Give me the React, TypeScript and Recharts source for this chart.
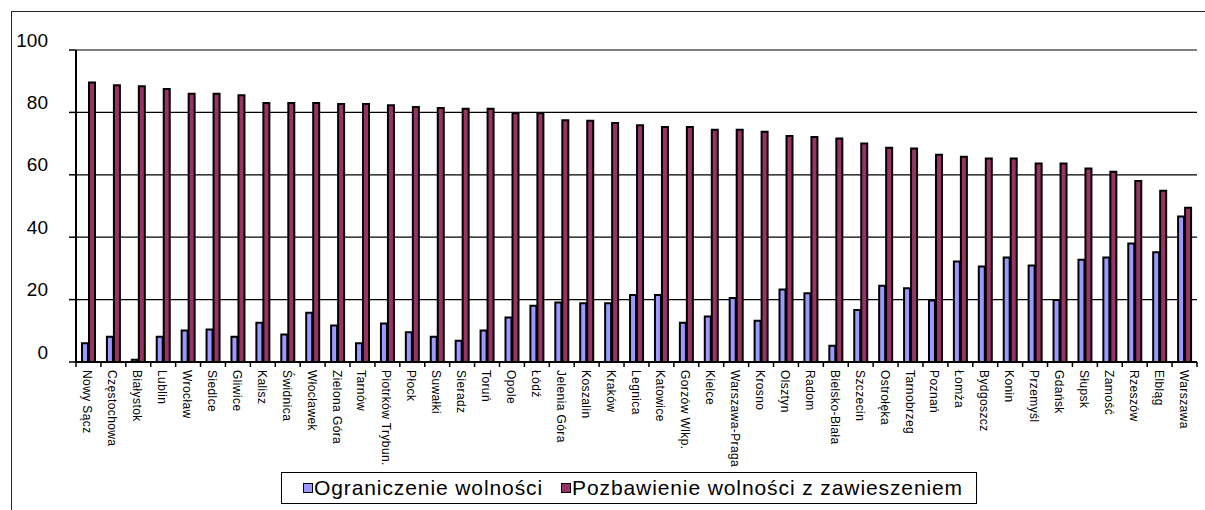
import React from 'react';
import { BarChart, Bar, XAxis, YAxis, CartesianGrid, Legend } from 'recharts';

const categories = [
  'Nowy Sącz', 'Częstochowa', 'Białystok', 'Lublin', 'Wrocław', 'Siedlce', 'Gliwice', 'Kalisz',
  'Świdnica', 'Włocławek', 'Zielona Góra', 'Tarnów', 'Piotrków Trybun.', 'Płock', 'Suwałki',
  'Sieradz', 'Toruń', 'Opole', 'Łódź', 'Jelenia Góra', 'Koszalin', 'Kraków', 'Legnica', 'Katowice',
  'Gorzów Wlkp.', 'Kielce', 'Warszawa-Praga', 'Krosno', 'Olsztyn', 'Radom', 'Bielsko-Biała',
  'Szczecin', 'Ostrołęka', 'Tarnobrzeg', 'Poznań', 'Łomża', 'Bydgoszcz', 'Konin', 'Przemyśl',
  'Gdańsk', 'Słupsk', 'Zamość', 'Rzeszów', 'Elbląg', 'Warszawa',
];

const ograniczenie = [
  6.0, 8.1, 0.7, 8.1, 10.1, 10.4, 8.1, 12.6, 8.8, 15.8, 11.7, 6.0, 12.3, 9.5, 8.1,
  6.8, 10.1, 14.3, 18.0, 19.1, 18.8, 18.8, 21.5, 21.5, 12.6, 14.6, 20.5, 13.2, 23.2, 22.0,
  5.2, 16.7, 24.4, 23.6, 19.7, 32.2, 30.6, 33.5, 30.9, 19.9, 32.8, 33.5, 38.0, 35.2, 46.6,
];

const pozbawienie = [
  89.6, 88.7, 88.4, 87.5, 86.0, 86.0, 85.5, 83.0, 83.0, 83.0, 82.7, 82.7, 82.3, 81.7, 81.4,
  81.2, 81.2, 79.7, 79.7, 77.5, 77.3, 76.6, 75.9, 75.3, 75.3, 74.4, 74.4, 73.8, 72.4, 72.1,
  71.6, 70.0, 68.7, 68.4, 66.4, 65.8, 65.2, 65.2, 63.6, 63.6, 62.0, 61.0, 58.0, 54.9, 49.4,
];

const yTicks = [0, 20, 40, 60, 80, 100];

const seriesNames = ['Ograniczenie wolności', 'Pozbawienie wolności z zawieszeniem'];
const seriesColors = ['#9999FF', '#993366'];

const data = categories.map((name, i) => ({
  name,
  ograniczenie: ograniczenie[i],
  pozbawienie: pozbawienie[i],
}));

const FONT = '"Liberation Sans", Arial, sans-serif';
const BAND = (1197 - 76) / categories.length;

const XTick = (props: any) => {
  const { x, y, payload, index } = props;
  const isLast = index === categories.length - 1;
  return (
    <g>
      <line x1={x - BAND / 2} y1={y - 8} x2={x - BAND / 2} y2={y - 3} stroke="#000" strokeWidth={1.5} />
      {isLast && (
        <line x1={x + BAND / 2} y1={y - 8} x2={x + BAND / 2} y2={y - 3} stroke="#000" strokeWidth={1.5} />
      )}
      <text
        x={0}
        y={0}
        transform={`translate(${x - 1},${y}) rotate(90)`}
        textAnchor="start"
        dominantBaseline="central"
        fontSize={12}
        letterSpacing={0.4}
        fontFamily={FONT}
        fill="#000"
      >
        {payload.value}
      </text>
    </g>
  );
};

const YTick = (props: any) => {
  const { x, y, payload } = props;
  return (
    <text x={x - 7} y={y - 10} textAnchor="end" dominantBaseline="central" fontSize={19} fontFamily={FONT} fill="#000">
      {payload.value}
    </text>
  );
};

const renderLegend = () => (
  <div
    style={{
      boxSizing: 'border-box',
      width: 696,
      height: 32,
      border: '1.5px solid #000',
      background: '#fff',
      display: 'flex',
      alignItems: 'center',
      paddingLeft: 21,
      fontFamily: FONT,
      fontSize: 21,
      letterSpacing: 0.9,
      color: '#000',
      whiteSpace: 'nowrap',
    }}
  >
    {seriesNames.map((n, i) => (
      <span key={n} style={{ display: 'flex', alignItems: 'center', marginRight: i === 0 ? 18 : 0 }}>
        <span
          style={{
            display: 'inline-block',
            width: 8,
            height: 8,
            background: seriesColors[i],
            border: '1px solid #000',
            marginRight: 1,
          }}
        />
        {n}
      </span>
    ))}
  </div>
);

export default function App() {
  return (
    <div style={{ position: 'absolute', left: 0, top: 0, width: 1205, height: 510, background: '#fff', overflow: 'hidden' }}>
      <div
        style={{
          position: 'absolute',
          left: 11,
          top: 11,
          width: 1205,
          height: 510,
          borderLeft: '1px solid #222',
          borderTop: '1px solid #222',
        }}
      />
      <div style={{ position: 'absolute', left: 0, top: 0 }}>
        <BarChart
          width={1205}
          height={510}
          data={data}
          margin={{ top: 50, right: 8, left: 0, bottom: 16 }}
          barSize={6}
          barGap={1}
        >
          <CartesianGrid horizontal vertical={false} stroke="#000" strokeWidth={1.2} />
          <XAxis
            dataKey="name"
            interval={0}
            height={100}
            tick={<XTick />}
            tickLine={false}
            axisLine={{ stroke: '#000', strokeWidth: 2 }}
          />
          <XAxis
            xAxisId="top"
            orientation="top"
            dataKey="name"
            height={0}
            tick={false}
            tickLine={false}
            axisLine={{ stroke: '#808080', strokeWidth: 2.5 }}
          />
          <YAxis
            domain={[0, 100]}
            ticks={yTicks}
            width={76}
            tickSize={7}
            tickMargin={14}
            tick={<YTick />}
            tickLine={{ stroke: '#000', strokeWidth: 1.5 }}
            axisLine={{ stroke: '#000', strokeWidth: 2 }}
          />
          <YAxis
            yAxisId="right"
            orientation="right"
            width={0}
            tick={false}
            tickLine={false}
            axisLine={{ stroke: '#808080', strokeWidth: 2.5 }}
          />
          <Legend
            verticalAlign="bottom"
            content={renderLegend}
            wrapperStyle={{ left: 281, top: 472, width: 696, height: 32 }}
          />
          <Bar
            dataKey="ograniczenie"
            name={seriesNames[0]}
            fill={seriesColors[0]}
            stroke="#000"
            strokeWidth={2}
            isAnimationActive={false}
          />
          <Bar
            dataKey="pozbawienie"
            name={seriesNames[1]}
            fill={seriesColors[1]}
            stroke="#000"
            strokeWidth={2}
            isAnimationActive={false}
          />
        </BarChart>
      </div>
    </div>
  );
}
